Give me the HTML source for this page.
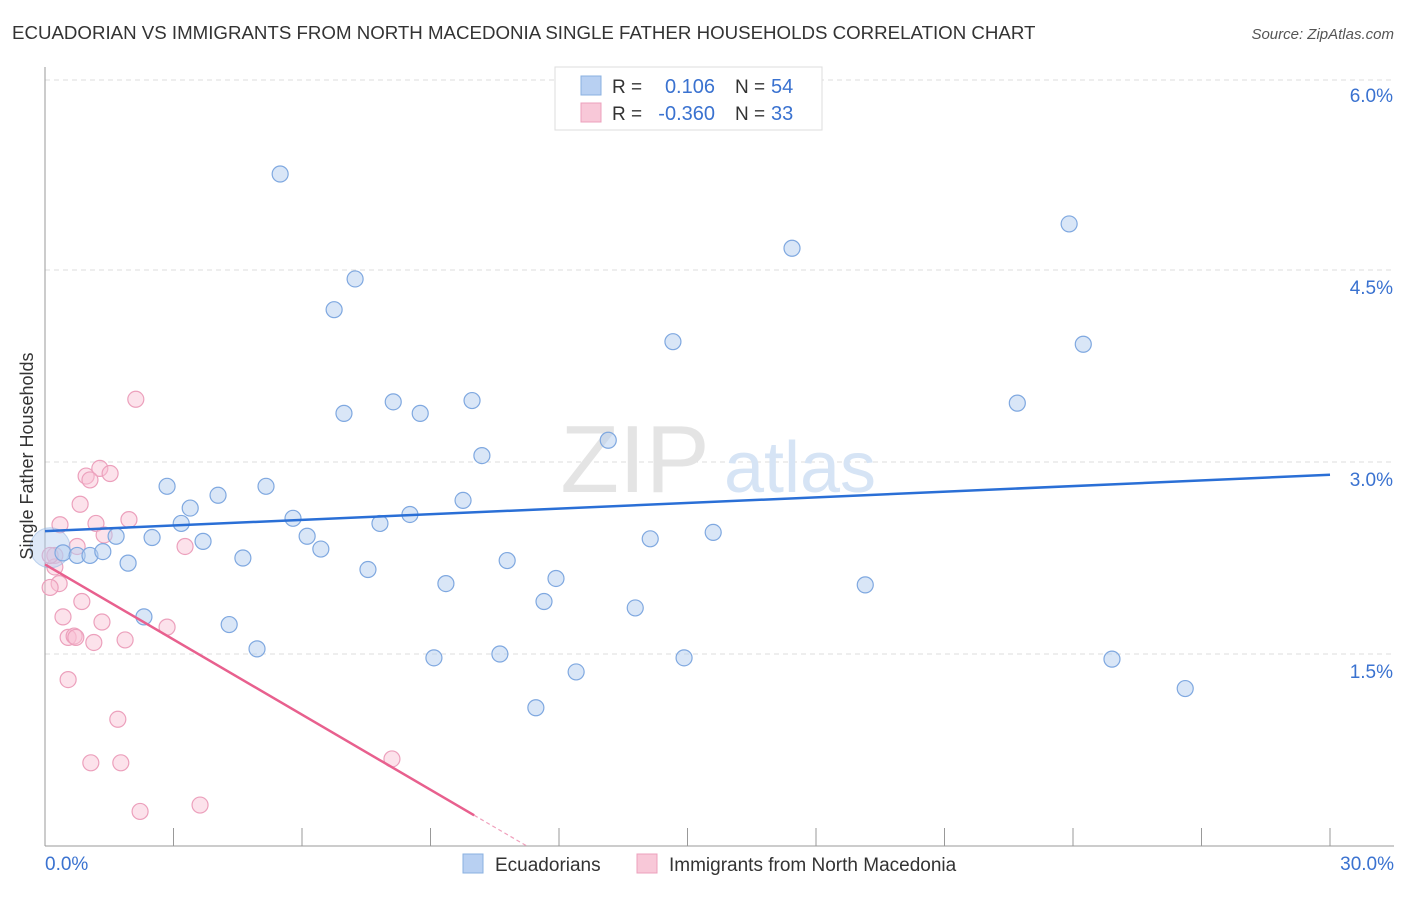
<!DOCTYPE html>
<html><head><meta charset="utf-8">
<style>
body{margin:0;background:#fff;font-family:"Liberation Sans",sans-serif;}
svg text{font-family:"Liberation Sans",sans-serif;}
</style></head>
<body>
<svg id="chart" width="1406" height="892" viewBox="0 0 1406 892" xmlns="http://www.w3.org/2000/svg">
<text x="12" y="39" font-size="18.7" fill="#333">ECUADORIAN VS IMMIGRANTS FROM NORTH MACEDONIA SINGLE FATHER HOUSEHOLDS CORRELATION CHART</text>
<text x="1394" y="39" font-size="15" fill="#555" font-style="italic" text-anchor="end">Source: ZipAtlas.com</text>
<g id="grid"></g>
<text x="635" y="492" font-size="96" fill="#e4e4e4" font-family="Liberation Serif" text-anchor="middle">ZIP</text>
<text x="800" y="492" font-size="72" fill="#d6e4f5" text-anchor="middle">atlas</text>
<g id="marks"></g>
<text x="33" y="456" font-size="18" fill="#333" text-anchor="middle" transform="rotate(-90 33 456)">Single Father Households</text>
<g>
<rect x="555" y="67" width="267" height="63" fill="#fff" stroke="#ddd"/>
<rect x="581" y="76" width="20" height="19" fill="#b8d0f2" stroke="#8ab0e0"/>
<rect x="581" y="103" width="20" height="19" fill="#f8c8d8" stroke="#eca0bc"/>
<text x="612" y="93" font-size="19" fill="#333">R = </text><text x="715" y="93" font-size="20" fill="#3a72d0" text-anchor="end">0.106</text>
<text x="735" y="93" font-size="19" fill="#333">N = </text><text x="771" y="93" font-size="20" fill="#3a72d0">54</text>
<text x="612" y="120" font-size="19" fill="#333">R = </text><text x="715" y="120" font-size="20" fill="#3a72d0" text-anchor="end">-0.360</text>
<text x="735" y="120" font-size="19" fill="#333">N = </text><text x="771" y="120" font-size="20" fill="#3a72d0">33</text>
</g>
<g>
<rect x="463" y="854" width="20" height="19" fill="#b8d0f2" stroke="#8ab0e0"/>
<text x="495" y="871" font-size="19" fill="#333">Ecuadorians</text>
<rect x="637" y="854" width="20" height="19" fill="#f8c8d8" stroke="#eca0bc"/>
<text x="669" y="871" font-size="19" fill="#333">Immigrants from North Macedonia</text>
</g>
</svg>
<script>
const xTicks=[0,3,6,9,12,15,18,21,24,27,30];
const yTicks=[1.5,3.0,4.5,6.0];
const blueX=[5.49,7.24,6.75,17.44,23.91,14.66,24.24,6.98,8.13,8.76,9.97,22.70,13.15,10.20,2.85,5.16,4.04,3.39,9.76,5.79,3.18,8.52,7.82,15.60,2.50,1.66,6.12,3.69,14.13,6.44,0.42,0.75,1.05,1.35,1.94,4.62,10.79,7.54,11.93,9.36,19.15,11.65,13.78,2.31,4.30,4.95,9.08,10.62,14.92,24.91,12.40,26.62,11.46];
const blueY=[5.25,4.43,4.19,4.67,4.86,3.94,3.92,3.38,3.47,3.38,3.48,3.46,3.17,3.05,2.81,2.81,2.74,2.64,2.70,2.56,2.52,2.59,2.52,2.45,2.41,2.42,2.42,2.38,2.40,2.32,2.29,2.27,2.27,2.30,2.21,2.25,2.23,2.16,2.09,2.05,2.04,1.91,1.86,1.79,1.73,1.54,1.47,1.50,1.47,1.46,1.36,1.23,1.08];
const pinkX=[2.12,1.28,1.52,0.96,1.05,0.82,1.96,1.19,0.35,1.38,0.75,3.27,0.23,0.23,0.33,0.12,0.86,0.42,1.33,2.85,0.54,0.68,0.72,1.87,1.14,0.54,1.70,1.07,1.77,8.10,2.22,3.62,0.12];
const pinkY=[3.49,2.95,2.91,2.89,2.86,2.67,2.55,2.52,2.51,2.43,2.34,2.34,2.27,2.18,2.05,2.02,1.91,1.79,1.75,1.71,1.63,1.64,1.63,1.61,1.59,1.30,0.99,0.65,0.65,0.68,0.27,0.32,2.27];
const bigPoint=[0.12,2.33];
const blueTrend=[2.46,2.90];
const pinkTrend=[2.20,0.24,10.02,11.25];
const NS="http://www.w3.org/2000/svg";
const X=v=>45+v/30*1285, Y=v=>846-v*128;
const grid=document.getElementById('grid'), marks=document.getElementById('marks');
function mk(tag,attrs,parent){const e=document.createElementNS(NS,tag);for(const k in attrs)e.setAttribute(k,attrs[k]);parent.appendChild(e);return e;}
yTicks.forEach(t=>{
 const l=mk('line',{x1:45,x2:1394,y1:Y(t)+(t==6?2:0),y2:Y(t)+(t==6?2:0),stroke:'#ddd','stroke-dasharray':'5 4'},grid);
 
 
 const tx=mk('text',{x:1393,y:Y(t)+24,'font-size':19,fill:'#3a72d0','text-anchor':'end'},grid);
 tx.textContent=t.toFixed(1)+'%';
 
 
});
mk('line',{x1:45,x2:45,y1:67,y2:846,stroke:'#999'},grid);
mk('line',{x1:45,x2:1394,y1:846,y2:846,stroke:'#999'},grid);
xTicks.forEach((t,i)=>{if(i>0){const l=mk('line',{x1:X(t),x2:X(t),y1:828,y2:846,stroke:'#999'},grid);
 
 }});
[[0,'0.0%','start',45],[30,'30.0%','end',1394]].forEach(a=>{const tx=mk('text',{x:a[3],y:870,'font-size':19,fill:'#3a72d0','text-anchor':a[2]},grid);tx.textContent=a[1];
 
 });
pinkX.forEach((x,i)=>{const c=mk('circle',{cx:X(x),cy:Y(pinkY[i]),r:8,fill:'rgba(248,190,210,0.45)',stroke:'#eca0bc','stroke-width':1.2},marks);
 
 });
const bc=mk('circle',{cx:X(bigPoint[0]),cy:Y(bigPoint[1]),r:20,fill:'rgba(180,205,240,0.45)',stroke:'rgba(138,176,224,0.5)'},marks);


blueX.forEach((x,i)=>{const c=mk('circle',{cx:X(x),cy:Y(blueY[i]),r:8,fill:'rgba(180,205,240,0.5)',stroke:'#7fa8e0','stroke-width':1.2},marks);
 
 });
const bl=mk('line',{x1:X(0),y1:Y(blueTrend[0]),x2:X(30),y2:Y(blueTrend[1]),stroke:'#2a6fd6','stroke-width':2.5},marks);


const pl=mk('line',{x1:X(0),y1:Y(pinkTrend[0]),x2:X(pinkTrend[2]),y2:Y(pinkTrend[1]),stroke:'#e8608e','stroke-width':2.5},marks);


const pd=mk('line',{x1:X(pinkTrend[2]),y1:Y(pinkTrend[1]),x2:X(pinkTrend[3]),y2:Y(0),stroke:'#f0a0bc','stroke-width':1.2,'stroke-dasharray':'4 3'},marks);


</script>
</body></html>
